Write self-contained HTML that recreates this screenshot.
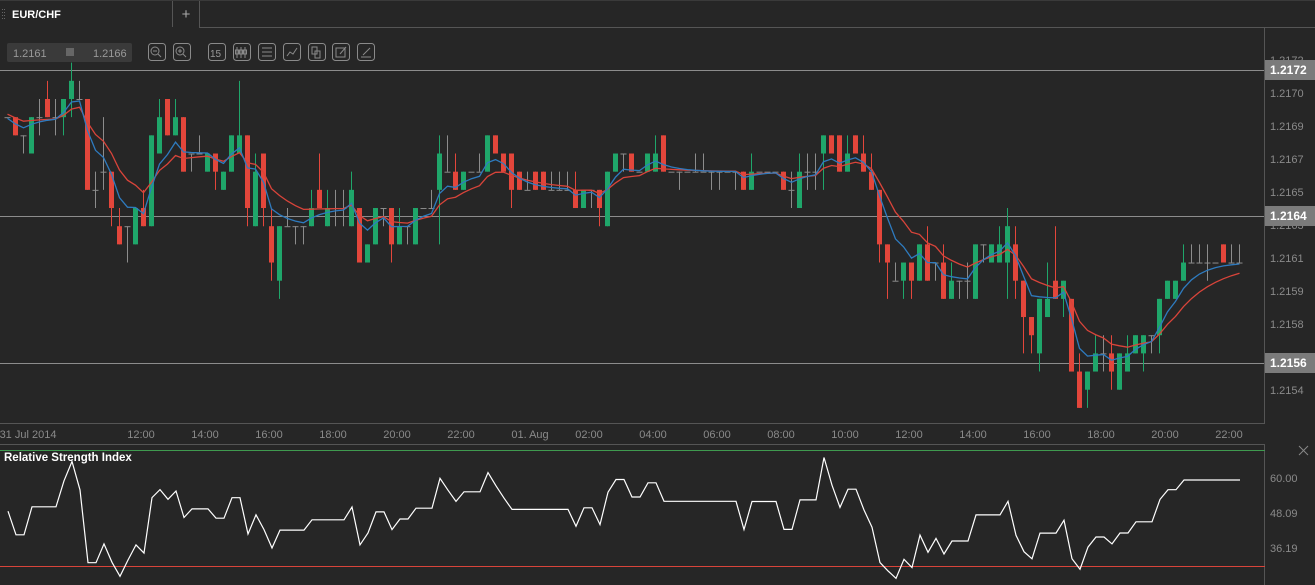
<!DOCTYPE html>
<html><head><meta charset="utf-8">
<style>
html,body{margin:0;padding:0;background:#262626;width:1315px;height:585px;overflow:hidden;font-family:"Liberation Sans",sans-serif;}
svg{position:absolute;left:0;top:0;}
</style></head><body>
<svg id="s" width="1315" height="585" xmlns="http://www.w3.org/2000/svg" font-family="Liberation Sans, sans-serif">
<rect width="1315" height="585" fill="#262626"/>
<!-- tab bar -->
<line x1="0" y1="0.5" x2="1315" y2="0.5" stroke="#3a3a3a"/>
<g fill="#666"><rect x="2" y="9" width="1" height="1"/><rect x="4" y="9" width="1" height="1"/><rect x="2" y="12" width="1" height="1"/><rect x="4" y="12" width="1" height="1"/><rect x="2" y="15" width="1" height="1"/><rect x="4" y="15" width="1" height="1"/><rect x="2" y="18" width="1" height="1"/><rect x="4" y="18" width="1" height="1"/></g>
<text x="12" y="18" fill="#fff" font-size="11" font-weight="bold">EUR/CHF</text>
<line x1="172.5" y1="1" x2="172.5" y2="27" stroke="#555"/>
<line x1="199.5" y1="1" x2="199.5" y2="27" stroke="#555"/>
<line x1="199" y1="27.5" x2="1315" y2="27.5" stroke="#555"/>
<text x="186" y="19" fill="#aaa" font-size="15" text-anchor="middle">+</text>
<!-- price box -->
<rect x="7" y="43" width="125" height="19" rx="2" fill="#3a3a3a"/>
<text x="13" y="57" fill="#999" font-size="11">1.2161</text>
<rect x="66" y="48" width="8" height="8" fill="#666"/>
<text x="93" y="57" fill="#999" font-size="11">1.2166</text>
<g id="icons" fill="none" stroke="#8a8a8a" stroke-width="1"></g>
<g id="chart"></g>
</svg>
<script>
var S=document.getElementById('s'),C=document.getElementById('chart'),I=document.getElementById('icons');
var ns='http://www.w3.org/2000/svg';
function el(p,t,a,txt){var e=document.createElementNS(ns,t);for(var k in a)e.setAttribute(k,a[k]);if(txt!==undefined)e.textContent=txt;p.appendChild(e);return e;}
// icons
[148,173,208,233,258,283,308,332,357].forEach(function(x,i){
 el(I,'rect',{x:x+0.5,y:43.5,width:17,height:17,rx:3});
});
el(I,'circle',{cx:155,cy:51,r:4});el(I,'line',{x1:153,y1:51,x2:157,y2:51});el(I,'line',{x1:158,y1:54,x2:161,y2:57});
el(I,'circle',{cx:180,cy:51,r:4});el(I,'line',{x1:178,y1:51,x2:182,y2:51});el(I,'line',{x1:180,y1:49,x2:180,y2:53});el(I,'line',{x1:183,y1:54,x2:186,y2:57});
el(I,'text',{x:210,y:57,fill:'#999',stroke:'none','font-size':10},'15');
[237,241,245].forEach(function(x){el(I,'line',{x1:x,y1:47,x2:x,y2:58});el(I,'rect',{x:x-1.5,y:50,width:3,height:4});});
[48,52,56].forEach(function(y){el(I,'line',{x1:262,y1:y,x2:272,y2:y});});
el(I,'polyline',{points:'287,56 290,52 293,54 297,48'});
el(I,'rect',{x:312,y:47,width:5,height:7});el(I,'rect',{x:315,y:51,width:5,height:7});
el(I,'rect',{x:336,y:48,width:9,height:9});el(I,'line',{x1:340,y1:54,x2:346,y2:47});
el(I,'line',{x1:361,y1:57,x2:371,y2:57});el(I,'line',{x1:363,y1:55,x2:370,y2:48});
// data [o,c,h,l] in pip-levels
var D=[[1,1,1,1],[1,2,1,2],[2,2,2,3],[3,1,1,3],[1,1,0,2],[0,1,-1,1],[1,1,0,2],[1,0,0,2],[0,-1,-2,1],[0,0,-1,0],
[0,5,0,5],[5,5,4,6],[4,4,1,5],[4,6,4,7],[7,8,6,8],[7,7,7,9],[8,6,6,8],[6,7,5,7],[7,2,2,7],[3,1,0,3],
[0,2,0,2],[2,1,0,2],[1,4,1,4],[3,3,3,4],[3,3,2,3],[4,3,3,4],[3,4,3,5],[5,4,4,5],[4,2,2,4],[3,2,-1,3],
[2,6,2,7],[7,4,3,7],[3,6,3,7],[7,9,6,10],[10,7,7,11],[7,7,6,7],[7,7,7,8],[7,7,7,8],[7,6,5,7],[5,6,3,6],
[7,6,5,7],[6,6,5,7],[6,6,5,7],[7,5,4,7],[6,9,6,9],[9,8,8,9],[8,6,6,8],[6,6,6,7],[6,8,6,9],[8,7,6,8],
[7,7,7,8],[8,6,6,8],[6,6,6,6],[6,6,5,6],[5,3,2,8],[4,4,2,4],[4,5,3,5],[5,4,4,5],[4,4,4,4],[4,4,3,4],
[4,2,2,4],[2,3,2,3],[3,4,3,4],[3,5,3,6],[4,5,4,5],[5,5,4,5],[4,5,4,5],[4,5,4,5],[5,5,4,5],[5,5,4,5],
[5,5,4,5],[5,6,4,6],[6,5,5,6],[5,5,5,6],[5,6,5,7],[7,4,4,7],[4,3,3,4],[3,3,3,4],[3,4,3,4],[4,4,4,4],
[4,3,3,4],[4,3,2,4],[2,4,2,4],[4,4,4,4],[4,4,4,5],[4,4,4,4],[4,4,3,4],[4,4,3,4],[4,4,4,5],[4,4,4,5],
[4,4,4,4],[4,4,4,5],[4,5,4,5],[5,4,3,5],[4,4,4,4],[4,4,4,4],[4,4,4,4],[4,5,4,5],[5,5,4,6],[6,4,3,6],
[4,4,3,5],[4,4,3,5],[3,2,2,5],[2,3,2,3],[2,4,2,4],[4,3,2,4],[2,3,2,3],[3,4,2,4],[4,5,3,5],[5,8,5,9],
[8,9,8,11],[10,10,9,10],[10,9,9,11],[9,10,9,11],[10,8,8,10],[8,10,7,10],[9,9,9,10],[9,11,8,11],[11,10,9,11],[10,10,10,11],
[10,10,9,11],[11,8,8,11],[8,8,8,9],[9,8,8,9],[9,8,7,9],[9,7,6,11],[8,10,7,11],[10,12,10,14],[12,13,12,14],[14,11,11,15],
[12,11,9,12],[10,11,7,11],[11,10,10,12],[11,15,11,15],[15,17,14,17],[16,15,15,17],[15,14,13,15],[14,14,13,15],[14,15,13,16],[16,14,14,16],
[15,14,13,15],[14,13,13,14],[14,13,13,15],[13,13,13,14],[13,11,11,14],[11,10,10,11],[11,10,10,11],[10,9,8,10],[9,9,8,9],[9,9,8,9],
[9,9,8,10],[9,9,9,9],[8,9,8,9],[9,9,8,9],[9,9,8,9]];
function Y(n){return 99+18.17*n;}
var G='#1fa66a',R='#e3463b',Gr='#8c8c8c';
// price lines
[70,216,363].forEach(function(y){el(C,'line',{x1:0,y1:y+0.5,x2:1265,y2:y+0.5,stroke:'#8c8c8c'});});
// candles
D.forEach(function(d,i){
 var x=7+8*i,o=d[0],c=d[1],col=c<o?G:(c>o?R:Gr);
 el(C,'line',{x1:x+0.5,y1:Y(d[2]),x2:x+0.5,y2:Y(d[3]),stroke:col});
 if(o==c){el(C,'line',{x1:x-2.5,y1:Y(o)+0.5,x2:x+3.5,y2:Y(o)+0.5,stroke:Gr});}
 else{var t=Math.min(o,c),b=Math.max(o,c);el(C,'rect',{x:x-2,y:Y(t),width:5,height:Y(b)-Y(t),fill:col});}
});
// EMAs
function ema(p,s){var k=2/(p+1),v=s,out=[];D.forEach(function(d){v=d[1]*k+v*(1-k);out.push(v);});return out;}
var e1=ema(5,1.1),e2=ema(10,0.8);
function pl(a,col){el(C,'polyline',{points:a.map(function(v,i){return (7+8*i+0.5)+','+Y(v).toFixed(1);}).join(' '),fill:'none',stroke:col,'stroke-width':1.3});}
pl(e2,'#d9443a');pl(e1,'#2e7bbf');
// axes
el(C,'line',{x1:0,y1:423.5,x2:1265,y2:423.5,stroke:'#555'});
el(C,'line',{x1:1264.5,y1:28,x2:1264.5,y2:423,stroke:'#555'});
[['1.2172',60],['1.2170',93],['1.2169',126],['1.2167',159],['1.2165',192],['1.2163',225],['1.2161',258],['1.2159',291],['1.2158',324],['1.2154',390]].forEach(function(a){
 el(C,'text',{x:1270,y:a[1]+4,fill:'#8a8a8a','font-size':11},a[0]);});
[['1.2172',70],['1.2164',216],['1.2156',363]].forEach(function(a){
 el(C,'rect',{x:1265,y:a[1]-10,width:50,height:20,fill:'#7b7b7b'});
 el(C,'text',{x:1270,y:a[1]+4,fill:'#fff','font-size':12,'font-weight':'bold'},a[0]);});
var T=[['31 Jul 2014',28],['12:00',141],['14:00',205],['16:00',269],['18:00',333],['20:00',397],['22:00',461],['01. Aug',530],['02:00',589],['04:00',653],['06:00',717],['08:00',781],['10:00',845],['12:00',909],['14:00',973],['16:00',1037],['18:00',1101],['20:00',1165],['22:00',1229]];
T.forEach(function(a){el(C,'text',{x:a[1],y:438,fill:'#8a8a8a','font-size':11,'text-anchor':'middle'},a[0]);});
// RSI panel
el(C,'line',{x1:0,y1:444.5,x2:1265,y2:444.5,stroke:'#555'});
el(C,'line',{x1:1264.5,y1:444,x2:1264.5,y2:585,stroke:'#555'});
el(C,'line',{x1:0,y1:450.5,x2:1265,y2:450.5,stroke:'#3f9a4f'});
el(C,'line',{x1:0,y1:566.5,x2:1265,y2:566.5,stroke:'#d8443a'});
el(C,'text',{x:4,y:461,fill:'#fff','font-size':11.5,'font-weight':'bold'},'Relative Strength Index');
[['60.00',478],['48.09',513],['36.19',548]].forEach(function(a){el(C,'text',{x:1270,y:a[1]+4,fill:'#8a8a8a','font-size':11},a[0]);});
el(C,'line',{x1:1299,y1:446,x2:1308,y2:455,stroke:'#888'});el(C,'line',{x1:1308,y1:446,x2:1299,y2:455,stroke:'#888'});
var ag=0.19,al=0.2,pts=[],prev=D[0][1];
D.forEach(function(d,i){var ch=prev-d[1];prev=d[1];
 if(i>0){ag=(ag*13+Math.max(ch,0))/14;al=(al*13+Math.max(-ch,0))/14;}
 var r=100*ag/(ag+al);pts.push((7+8*i+1)+','+(478+(60-r)*2.94).toFixed(1));});
el(C,'polyline',{points:pts.join(' '),fill:'none',stroke:'#fff','stroke-width':1.2});
</script>
</body></html>
